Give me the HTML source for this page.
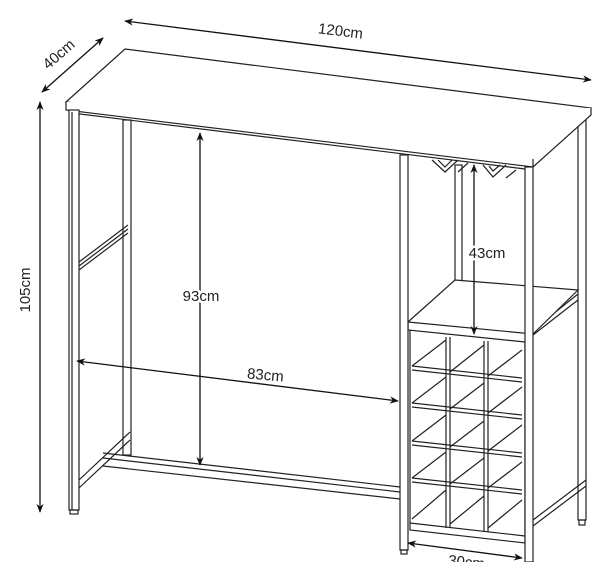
<!DOCTYPE html>
<html><head><style>
html,body{margin:0;padding:0;background:#fff;}
svg{display:block;}
text{font-family:"Liberation Sans",sans-serif;font-size:15px;fill:#222;}
</style></head><body>
<svg width="600" height="562" viewBox="0 0 600 562" xmlns="http://www.w3.org/2000/svg">
<defs>
<marker id="a" viewBox="0 0 10 10" refX="9" refY="5" markerWidth="9" markerHeight="9" orient="auto-start-reverse" markerUnits="userSpaceOnUse"><path d="M0,1 L10,5 L0,9 L3,5 Z" fill="#111"/></marker>
</defs>
<g stroke="#222" stroke-width="1.2" fill="none">
<!-- back left leg -->
<rect x="123" y="120" width="8" height="335" fill="#fff"/>
<!-- back right leg -->
<rect x="578" y="118" width="8" height="402" fill="#fff"/>
<rect x="579" y="520" width="6" height="5"/>
<!-- back inner leg near rack -->
<rect x="455" y="165" width="7" height="120" fill="#fff"/>
<!-- left side brace -->
<path d="M79,262 L128,225 M79,270 L128,233 M79,266 L128,229"/>
<path d="M79,480 L130,432 M79,488 L130,440"/>
<!-- bottom rail -->
<path d="M103,453 L400,487 M103,458 L400,492 M103,466 L400,499"/>
<!-- right side rails -->
<path d="M533,520 L586,480 M533,526 L586,486"/>
<path d="M533,335 L578,300 M533,330 L578,294"/>
<!-- top -->
<path d="M66,102 L125,49 L591,108 L533,159 Z" fill="#fff"/>
<path d="M66,102 L66,110 L533,167 L591,115 L591,108" fill="#fff"/>
<line x1="533" y1="159" x2="533" y2="167"/>
<line x1="72" y1="113" x2="533" y2="170"/>
<!-- front left leg -->
<rect x="69" y="110" width="10" height="400" fill="#fff"/>
<line x1="72" y1="112" x2="72" y2="510"/>
<rect x="70" y="510" width="8" height="4"/>
<!-- rack shelf -->
<path d="M408,322 L455,280 L578,290 L533,334 Z" fill="#fff"/>
<path d="M408,322 L408,330 L525,342"/>
<!-- wine rack box -->
<path d="M410,330 L410,530 L525,543 L525,342"/>
<path d="M410,523 L525,536"/>
<path d="M446,337 L446,528 M450,337 L450,528 M484,341 L484,532 M488,341 L488,532"/>
<path d="M412,366 L522,378 M412,370 L522,382 M412,403 L522,415 M412,407 L522,419 M412,441 L522,453 M412,445 L522,457 M412,478 L522,490 M412,482 L522,494"/>
<path d="M412,366 L446,340 M450,372 L484,345 M488,376 L522,350 M412,403 L446,377 M450,409 L484,383 M488,413 L522,387 M412,441 L446,415 M450,447 L484,421 M488,451 L522,425 M412,478 L446,452 M450,484 L484,458 M488,488 L522,462 M412,519 L446,490 M450,524 L484,496 M488,528 L522,500"/>
<!-- glass holders -->
<path d="M432,160 L445,172 L458,160 M438,160 L445,167 L452,160 M458,172 L468,163 M483,165 L493,177 L506,165 M489,166 L493,171 L500,165 M506,178 L516,170"/>
<!-- front middle leg -->
<rect x="400" y="155" width="8" height="395" fill="#fff"/>
<rect x="401" y="550" width="6" height="4"/>
<!-- front right leg -->
<rect x="525" y="167" width="8" height="395" fill="#fff"/>
</g>
<!-- dimension arrows -->
<g stroke="#111" stroke-width="1.3" fill="none">
<line x1="125" y1="21" x2="591" y2="80" marker-start="url(#a)" marker-end="url(#a)"/>
<line x1="103" y1="38" x2="42" y2="92" marker-start="url(#a)" marker-end="url(#a)"/>
<line x1="40" y1="102" x2="40" y2="512" marker-start="url(#a)" marker-end="url(#a)"/>
<line x1="200" y1="133" x2="200" y2="465" marker-start="url(#a)" marker-end="url(#a)"/>
<line x1="77" y1="361" x2="398" y2="401" marker-start="url(#a)" marker-end="url(#a)"/>
<line x1="474" y1="165" x2="474" y2="334" marker-start="url(#a)" marker-end="url(#a)"/>
<line x1="408" y1="543" x2="522" y2="558" marker-start="url(#a)" marker-end="url(#a)"/>
</g>
<text x="340" y="36" transform="rotate(7 340 36)" text-anchor="middle">120cm</text>
<text x="62" y="58" transform="rotate(-41 62 58)" text-anchor="middle">40cm</text>
<text x="30" y="290" transform="rotate(-90 30 290)" text-anchor="middle">105cm</text>
<text x="201" y="301" text-anchor="middle" fill="#fff" stroke="#fff" stroke-width="5">93cm</text>
<text x="201" y="301" text-anchor="middle">93cm</text>
<text x="265" y="380" transform="rotate(5 265 380)" text-anchor="middle">83cm</text>
<text x="487" y="258" text-anchor="middle" fill="#fff" stroke="#fff" stroke-width="5">43cm</text>
<text x="487" y="258" text-anchor="middle">43cm</text>
<text x="466" y="567" transform="rotate(6 466 567)" text-anchor="middle">30cm</text>
</svg>
</body></html>
